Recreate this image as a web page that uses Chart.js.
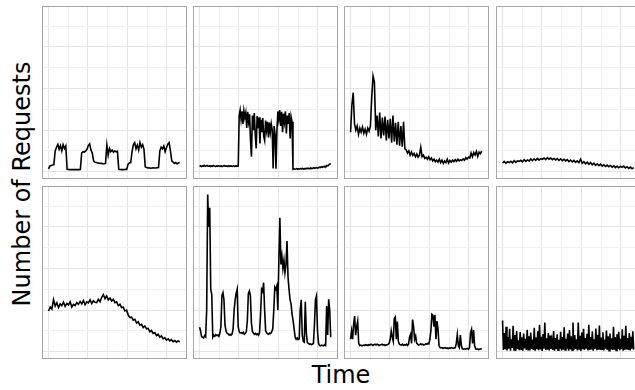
<!DOCTYPE html>
<html>
<head>
<meta charset="utf-8">
<script src="https://cdn.jsdelivr.net/npm/chart.js@4.4.1/dist/chart.umd.min.js"></script>
<style>
  body { margin: 0; background: #fff; overflow: hidden; }
  #wrap { position: relative; width: 635px; height: 390px; overflow: hidden; font-family: "DejaVu Sans", sans-serif; color: #000; }
  .panel { position: absolute; }
  #ylab { position: absolute; left: 22px; top: 184px; font-size: 24px; white-space: nowrap;
          transform: translate(-50%, -50%) rotate(-90deg); }
  #xlab { position: absolute; left: 341px; top: 361px; font-size: 24px; transform: translateX(-50%); }
</style>
</head>
<body>
<div id="wrap">
  <div id="ylab">Number of Requests</div>
  <div id="xlab">Time</div>
</div>
<script>
// request counts per time step, one array per facet (top row left to right, then bottom row)
const requests1 = [14, 28, 30, 32, 34, 100, 118, 132, 108, 126, 100, 130, 112, 124, 12, 11, 10, 11, 10, 10,
  11, 10, 11, 10, 11, 90, 96, 94, 100, 108, 126, 134, 104, 90, 52, 46, 44, 42, 42, 40,
  40, 38, 38, 40, 128, 80, 112, 96, 104, 94, 100, 96, 98, 12, 11, 10, 11, 10, 12, 11,
  36, 42, 44, 96, 130, 140, 110, 128, 104, 140, 118, 130, 108, 24, 20, 18, 19, 17, 18, 19,
  18, 18, 19, 20, 100, 118, 110, 124, 96, 116, 132, 140, 100, 52, 46, 40, 44, 38, 42, 44];

const requests2 = [26, 29, 25, 28, 27, 31, 26, 28, 30, 26, 27, 29, 25, 28, 26, 30, 27, 25, 28, 26,
  29, 27, 26, 28, 25, 27, 30, 26, 28, 27, 25, 29, 26, 28, 27, 26, 29, 25, 27, 28,
  26, 28, 270, 296, 250, 290, 230, 292, 260, 284, 210, 288, 240, 276, 150, 72, 270, 200, 282, 180,
  112, 268, 210, 262, 136, 250, 190, 258, 170, 150, 246, 200, 240, 165, 236, 190, 230, 200, 16, 220,
  180, 14, 200, 290, 250, 296, 220, 288, 190, 280, 240, 290, 184, 270, 230, 282, 160, 264, 240, 12,
  14, 12, 13, 15, 12, 14, 13, 15, 14, 16, 13, 15, 14, 16, 15, 17, 14, 16, 18, 15,
  17, 19, 16, 18, 20, 17, 19, 22, 20, 24, 21, 25, 23, 27, 25, 30, 28, 33, 36, 40];

const requests3 = [190, 320, 380, 230, 200, 220, 180, 210, 190, 215, 185, 205, 180, 210, 195, 220, 360, 460, 430, 200,
  270, 170, 285, 160, 260, 175, 265, 150, 250, 160, 255, 140, 270, 145, 235, 130, 240, 125, 220, 120,
  240, 110, 105, 90, 100, 80, 95, 78, 88, 72, 85, 70, 80, 118, 72, 80, 64, 70, 60, 72,
  58, 66, 52, 60, 48, 56, 46, 60, 44, 56, 40, 52, 44, 60, 42, 54, 46, 56, 48, 58,
  50, 60, 52, 58, 54, 62, 56, 68, 60, 70, 66, 90, 72, 92, 80, 98, 74, 94, 86, 100];

const requests4 = [42, 50, 40, 48, 44, 50, 43, 53, 45, 52, 50, 55, 48, 58, 50, 57, 52, 61, 53, 62,
  55, 64, 56, 63, 60, 66, 58, 68, 60, 66, 58, 64, 57, 63, 55, 62, 53, 60, 52, 58,
  49, 56, 47, 54, 45, 52, 44, 60, 40, 48, 38, 46, 36, 44, 33, 41, 31, 38, 29, 36,
  27, 33, 25, 32, 24, 30, 22, 28, 20, 27, 19, 26, 21, 27, 18, 24, 16, 22, 14, 20];

const requests5 = [196, 215, 205, 250, 220, 235, 212, 230, 222, 238, 218, 232, 225, 240, 215, 228, 222, 236, 228, 242,
  230, 246, 226, 240, 235, 250, 232, 245, 238, 236, 252, 240, 262, 275, 255, 268, 250, 258, 244, 252,
  236, 240, 222, 228, 212, 214, 196, 200, 176, 164, 166, 152, 156, 138, 144, 128, 132, 116, 124, 110,
  112, 96, 102, 88, 92, 78, 84, 70, 76, 62, 68, 56, 62, 52, 58, 48, 54, 46, 52, 48];

const requests6 = [118, 100, 72, 70, 66, 78, 72, 200, 756, 600, 692, 300, 276, 70, 80, 75, 82, 78, 80, 74,
  90, 120, 270, 284, 250, 130, 100, 90, 86, 80, 84, 80, 86, 110, 200, 250, 280, 300, 120, 96,
  90, 92, 88, 94, 84, 88, 96, 150, 280, 292, 270, 140, 96, 90, 84, 88, 82, 86, 80, 92,
  180, 300, 290, 332, 200, 100, 90, 86, 84, 90, 88, 96, 110, 200, 310, 300, 316, 200, 440, 644,
  420, 460, 400, 440, 380, 420, 532, 360, 300, 250, 230, 180, 150, 110, 70, 60, 66, 58, 62, 200,
  250, 80, 50, 46, 240, 90, 44, 40, 36, 38, 34, 36, 40, 130, 250, 268, 100, 40, 30, 28,
  32, 30, 28, 34, 30, 220, 80, 252, 200, 70];

const requests7 = [60, 100, 60, 130, 171, 80, 120, 147, 40, 30, 32, 28, 30, 32, 30, 34, 32, 30, 34, 32,
  36, 34, 30, 34, 36, 32, 36, 34, 30, 32, 34, 36, 32, 34, 30, 32, 34, 36, 40, 60,
  100, 70, 50, 160, 167, 60, 145, 50, 36, 34, 32, 36, 30, 34, 32, 36, 30, 36, 70, 83,
  40, 155, 120, 60, 75, 40, 36, 32, 34, 38, 34, 36, 32, 34, 38, 36, 40, 38, 60, 100,
  180, 175, 120, 178, 60, 147, 110, 30, 20, 18, 20, 16, 18, 20, 16, 18, 14, 18, 16, 20,
  18, 16, 18, 20, 40, 83, 30, 20, 80, 30, 14, 12, 14, 12, 14, 16, 12, 20, 90, 107,
  40, 104, 30, 14, 12, 14, 10, 12, 14, 12];

const requests8 = [150, 8, 90, 12, 120, 6, 70, 15, 110, 5, 60, 18, 125, 9, 80, 4, 100, 14, 55, 7,
  95, 12, 70, 5, 88, 16, 62, 8, 105, 10, 75, 6, 92, 14, 58, 9, 115, 5, 68, 12,
  98, 7, 130, 11, 72, 4, 85, 15, 140, 8, 64, 10, 90, 6, 78, 13, 52, 9, 100, 5,
  66, 12, 84, 7, 58, 14, 96, 6, 70, 10, 118, 8, 62, 15, 88, 5, 104, 11, 74, 7,
  140, 9, 80, 13, 60, 6, 140, 10, 76, 4, 92, 12, 110, 8, 66, 15, 86, 6, 130, 9,
  70, 11, 98, 5, 60, 14, 112, 7, 82, 10, 126, 8, 68, 12, 94, 6, 58, 15, 102, 9,
  74, 5, 88, 11, 64, 8, 120, 10, 70, 6, 84, 13, 96, 7, 62, 12, 108, 5, 76, 9,
  125, 11, 66, 8, 90, 6, 72, 14, 98, 10];

const timeTicks = [0, 1, 2, 3, 4, 5, 6, 7];
const requestTicks = [0, 100, 200, 300, 400, 500, 600, 700];
const timeEnd = 6.66;

const facets = [requests1, requests2, requests3, requests4, requests5, requests6, requests7, requests8];
const colLeft = [42, 193, 344, 496];
const rowTop = [6, 186];
const panelW = 145, panelH = 173;

// grey frame round each facet
const panelBorder = {
  id: 'panelBorder',
  afterDraw(chart) {
    const { ctx, chartArea: a } = chart;
    ctx.save();
    ctx.strokeStyle = '#a6a6a6';
    ctx.lineWidth = 1;
    ctx.strokeRect(a.left + 0.5, a.top + 0.5, a.width - 1, a.height - 1);
    ctx.restore();
  }
};

function gridColor(ctx) {
  return ctx.index % 2 === 0 ? '#e4e4e4' : '#f0f0f0';
}

function makePanel(values, left, top) {
  const canvas = document.createElement('canvas');
  canvas.className = 'panel';
  canvas.width = panelW;
  canvas.height = panelH;
  canvas.style.left = left + 'px';
  canvas.style.top = top + 'px';
  document.getElementById('wrap').appendChild(canvas);

  const n = values.length;
  const points = values.map((v, i) => ({ x: i * timeEnd / (n - 1), y: v }));

  new Chart(canvas, {
    type: 'line',
    data: {
      datasets: [{
        data: points,
        borderColor: '#000',
        borderWidth: 1.6,
        pointRadius: 0,
        tension: 0
      }]
    },
    options: {
      responsive: false,
      animation: false,
      events: [],
      layout: { padding: 0 },
      plugins: { legend: { display: false }, tooltip: { enabled: false } },
      scales: {
        x: {
          type: 'linear',
          min: -0.333,
          max: 7.03,
          afterBuildTicks: s => { s.ticks = timeTicks.map(v => ({ value: v })); },
          ticks: { display: false },
          grid: { drawTicks: false, color: gridColor, lineWidth: 1 },
          border: { display: false }
        },
        y: {
          min: -35,
          max: 797,
          afterBuildTicks: s => { s.ticks = requestTicks.map(v => ({ value: v })); },
          ticks: { display: false },
          grid: { drawTicks: false, color: gridColor, lineWidth: 1 },
          border: { display: false }
        }
      }
    },
    plugins: [panelBorder]
  });
}

facets.forEach((values, i) => {
  makePanel(values, colLeft[i % 4], rowTop[Math.floor(i / 4)]);
});
</script>
</body>
</html>
